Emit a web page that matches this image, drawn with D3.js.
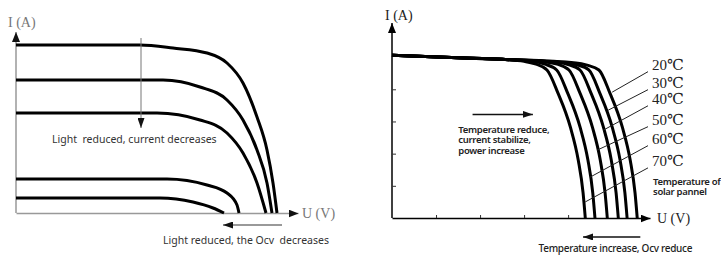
<!DOCTYPE html>
<html>
<head>
<meta charset="utf-8">
<script src="https://cdn.jsdelivr.net/npm/d3@7"></script>
<style>
  body { margin: 0; background: #fff; }
  .note { font-family: "Noto Sans", sans-serif; font-size: 10.5px; fill: #333; }
  .noteb { font-family: "Noto Sans", sans-serif; font-size: 9.5px; fill: #222; font-weight: 600; letter-spacing: -0.3px; }
  .unit { font-family: "Liberation Serif", "DejaVu Serif", serif; font-size: 14px; }
</style>
</head>
<body>
<div id="container"></div>
<script>
/* DATA - light intensity chart (U in V, I in A) */
const lightCurves = [
  [[0,16.8],[12.4,16.8],[15.7,16.5],[19.1,16.0],[21.1,15.0],[22.7,13.0],[24.1,9.6],[25.1,6.3],[25.7,3.0],[26.1,0]],
  [[0,13.3],[14.7,13.3],[18.4,12.6],[21.1,11.3],[22.7,9.3],[24.1,6.3],[25.1,3.0],[25.6,0]],
  [[0,10.0],[14.1,10.0],[18.4,9.3],[21.1,8.0],[22.7,6.0],[24.1,3.0],[25.0,0]],
  [[0,3.4],[15.1,3.4],[19.1,2.8],[21.1,2.0],[22.1,0.8],[22.3,0]],
  [[0,1.5],[14.4,1.5],[17.7,1.1],[19.7,0.5],[20.8,0]]
]

/* DATA - temperature chart */
const tempLabels = ["20℃", "30℃", "40℃", "50℃", "60℃", "70℃"]
const tempCurves = [
  [[0,5.06],[15,4.98],[25,4.93],[41.8,4.82],[44.3,4.75],[47,4.6],[49.5,3.88],[52.3,2.83],[54.1,1.8],[55.2,0.78],[55.7,0]],
  [[0,5.06],[15,4.98],[25,4.93],[39.5,4.83],[42,4.76],[44.7,4.6],[47.2,3.88],[50,2.83],[51.8,1.8],[52.9,0.78],[53.4,0]],
  [[0,5.06],[15,4.98],[25,4.93],[37.5,4.84],[40,4.77],[42.7,4.6],[45.2,3.88],[48,2.83],[49.8,1.8],[50.9,0.78],[51.4,0]],
  [[0,5.06],[15,4.98],[25,4.93],[35,4.85],[37.5,4.78],[40.2,4.6],[42.7,3.88],[45.5,2.83],[47.3,1.8],[48.4,0.78],[48.9,0]],
  [[0,5.06],[15,4.98],[25,4.93],[32.2,4.86],[34.7,4.78],[37.4,4.6],[39.9,3.88],[42.7,2.83],[44.5,1.8],[45.6,0.78],[46.1,0]],
  [[0,5.06],[15,4.98],[25,4.93],[30,4.87],[32.5,4.79],[35.2,4.6],[37.7,3.88],[40.5,2.83],[42.3,1.8],[43.4,0.78],[43.9,0]]
]
// where each leader line touches its curve [U, I]
const leaderEnds = [[50.0,3.91],[49.1,3.35],[48.0,2.73],[46.6,2.11],[45.0,1.27],[43.9,0.5]]
const labelCurrent = [4.61, 4.05, 3.55, 2.9, 2.31, 1.62]
const tempXTicks = [10, 20, 30, 40]
const tempYTicks = [1, 2, 3, 4]

/* CONSTANTS */
const width = 721
const height = 259

const svg = d3.select("#container")
  .append("svg")
  .attr("width", width)
  .attr("height", height)

// arrow markers
const defs = svg.append("defs")
function marker(id, color, w, h) {
  defs.append("marker")
    .attr("id", id)
    .attr("viewBox", `0 0 ${w} ${h}`)
    .attr("refX", w).attr("refY", h / 2)
    .attr("markerWidth", w).attr("markerHeight", h)
    .attr("markerUnits", "userSpaceOnUse")
    .attr("orient", "auto")
    .append("path")
    .attr("d", `M0,0L${w},${h/2}L0,${h}Z`)
    .attr("fill", color)
}
marker("axisL", "#111", 10, 8)
marker("axisR", "#000", 10, 8)
marker("note", "#111", 10, 7)

const line = (x, y) => d3.line()
  .x(d => x(d[0]))
  .y(d => y(d[1]))
  .curve(d3.curveMonotoneX)

/* LEFT CHART */
const xL = d3.scaleLinear().domain([0, 28.2]).range([16, 298])
const yL = d3.scaleLinear().domain([0, 18.1]).range([213, 32])
const gL = svg.append("g")

gL.append("g")
  .attr("transform", `translate(0,${yL(0)})`)
  .call(d3.axisBottom(xL).tickValues([]).tickSizeOuter(0))
  .call(g => g.select(".domain").attr("stroke", "#999").attr("stroke-width", 1.5)
    .attr("marker-end", "url(#axisL)"))
gL.append("g")
  .attr("transform", `translate(${xL(0)},0)`)
  .call(d3.axisLeft(yL).tickValues([]).tickSizeOuter(0))
  .call(g => g.select(".domain").attr("stroke", "#999").attr("stroke-width", 1.5)
    .attr("d", `M0,${yL(0)}V${yL.range()[1]}`)
    .attr("marker-end", "url(#axisL)"))

gL.selectAll(".curve")
  .data(lightCurves)
  .join("path")
  .attr("class", "curve")
  .attr("d", line(xL, yL))
  .attr("fill", "none")
  .attr("stroke", "#000")
  .attr("stroke-width", 3)

// annotations
gL.append("line")
  .attr("x1", xL(12.5)).attr("y1", yL(17.5))
  .attr("x2", xL(12.5)).attr("y2", yL(8.5))
  .attr("stroke", "#777").attr("stroke-width", 1)
  .attr("marker-end", "url(#note)")
gL.append("text").attr("class", "note")
  .attr("x", xL(3.6)).attr("y", yL(7.0))
  .text("Light\u00a0\u00a0reduced, current decreases")
gL.append("line")
  .attr("x1", xL(26.6)).attr("y1", yL(-1.2))
  .attr("x2", xL(20.7)).attr("y2", yL(-1.2))
  .attr("stroke", "#777").attr("stroke-width", 1.5)
  .attr("marker-end", "url(#note)")
gL.append("text").attr("class", "note")
  .attr("x", xL(14.7)).attr("y", yL(-3.1))
  .text("Light reduced, the Ocv\u00a0\u00a0decreases")
gL.append("text").attr("class", "unit").attr("fill", "#777")
  .attr("x", 8).attr("y", 27).text("I (A)")
gL.append("text").attr("class", "unit").attr("fill", "#777")
  .attr("x", 302).attr("y", 218).text("U (V)")

/* RIGHT CHART */
const xR = d3.scaleLinear().domain([0, 58.6]).range([392, 650])
const yR = d3.scaleLinear().domain([0, 6.06]).range([218, 23])
const gR = svg.append("g")

gR.append("g")
  .attr("transform", `translate(0,${yR(0)})`)
  .call(d3.axisBottom(xR).tickValues(tempXTicks).tickSizeInner(-3).tickSizeOuter(0).tickFormat(""))
  .call(g => g.select(".domain").attr("stroke", "#000").attr("stroke-width", 1.5)
    .attr("marker-end", "url(#axisR)"))
  .call(g => g.selectAll(".tick line").attr("stroke", "#333"))
gR.append("g")
  .attr("transform", `translate(${xR(0)},0)`)
  .call(d3.axisLeft(yR).tickValues(tempYTicks).tickSizeInner(-4).tickSizeOuter(0).tickFormat(""))
  .call(g => g.select(".domain").attr("stroke", "#000").attr("stroke-width", 1.5)
    .attr("d", `M0,${yR(0)}V${yR.range()[1]}`)
    .attr("marker-end", "url(#axisR)"))
  .call(g => g.selectAll(".tick line").attr("stroke", "#333"))

gR.selectAll(".curve")
  .data(tempCurves)
  .join("path")
  .attr("class", "curve")
  .attr("d", line(xR, yR))
  .attr("fill", "none")
  .attr("stroke", "#000")
  .attr("stroke-width", 3)

// temperature labels and leader lines
const labX = 652
gR.selectAll(".lead")
  .data(leaderEnds)
  .join("line")
  .attr("class", "lead")
  .attr("x1", labX - 4).attr("y1", (d, i) => yR(labelCurrent[i]) + 2)
  .attr("x2", d => xR(d[0])).attr("y2", d => yR(d[1]))
  .attr("stroke", "#222").attr("stroke-width", 1)
gR.selectAll(".tlab")
  .data(tempLabels)
  .join("text")
  .attr("class", "unit tlab")
  .attr("x", labX)
  .attr("y", (d, i) => yR(labelCurrent[i]))
  .attr("fill", "#222")
  .style("font-size", "15px")
  .text(d => d)

gR.append("line")
  .attr("x1", xR(18.3)).attr("y1", yR(3.22))
  .attr("x2", xR(32.0)).attr("y2", yR(3.22))
  .attr("stroke", "#111").attr("stroke-width", 1.5)
  .attr("marker-end", "url(#note)")
gR.append("text").attr("class", "noteb")
  .selectAll("tspan")
  .data(["Temperature reduce,", "current stabilize,", "power increase"])
  .join("tspan")
  .attr("x", xR(15.05))
  .attr("y", (d, i) => yR(2.65) + i * 10.5)
  .text(d => d)
gR.append("text").attr("class", "noteb")
  .selectAll("tspan")
  .data(["Temperature of", "solar pannel"])
  .join("tspan")
  .attr("x", 653)
  .attr("y", (d, i) => yR(1.03) + i * 10.5)
  .text(d => d)
gR.append("line")
  .attr("x1", xR(56.4)).attr("y1", yR(-0.59))
  .attr("x2", xR(43.4)).attr("y2", yR(-0.59))
  .attr("stroke", "#111").attr("stroke-width", 1.5)
  .attr("marker-end", "url(#note)")
gR.append("text").attr("class", "noteb").style("font-weight", 500).style("font-size", "10px")
  .attr("x", xR(33.3)).attr("y", yR(-1.05))
  .text("Temperature increase, Ocv reduce")
gR.append("text").attr("class", "unit").attr("fill", "#222")
  .attr("x", 385).attr("y", 20).text("I (A)")
gR.append("text").attr("class", "unit").attr("fill", "#222")
  .attr("x", 657).attr("y", 223).text("U (V)")
</script>
</body>
</html>
